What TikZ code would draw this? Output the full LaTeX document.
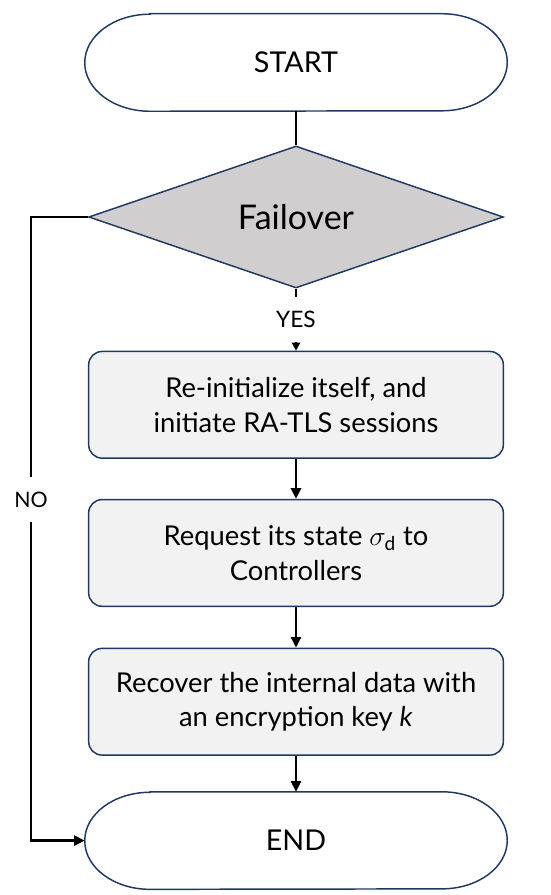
\documentclass[tikz,border=0pt]{standalone}
\usepackage{fontspec}
\setmainfont{Lato}
\usepackage{tikz}
\usetikzlibrary{arrows.meta,positioning,shapes.geometric}
\definecolor{navyline}{RGB}{31,56,100}
\definecolor{decgray}{RGB}{208,206,206}
\definecolor{procgray}{RGB}{242,242,242}

% outline of a terminal node with elliptical ends
\newcommand{\termoutline}[1]{%
  \draw[navyline, line width=1.1pt]
    ([xshift=49pt]#1.north west) -- ([xshift=-49pt]#1.north east)
    arc[start angle=90, end angle=-90, x radius=49pt, y radius=36.4pt]
    -- ([xshift=49pt]#1.south west)
    arc[start angle=270, end angle=90, x radius=49pt, y radius=36.4pt] -- cycle;}

\begin{document}
\begin{tikzpicture}[x=0.75pt, y=-0.75pt,
  terminal/.style={minimum width=316.5pt, minimum height=72.75pt, inner sep=0pt, font=\fontsize{21.5}{25}\selectfont},
  decision/.style={diamond, draw=navyline, line width=1.1pt, fill=decgray, minimum width=311pt, minimum height=106.5pt, inner sep=0pt, font=\fontsize{25.5}{29}\selectfont},
  process/.style={draw=navyline, line width=1.1pt, fill=procgray, rounded corners=10pt, align=center, minimum width=311pt, minimum height=80pt, font=\fontsize{20.5}{26}\selectfont},
  flow/.style={line width=2pt},
  arrow/.style={flow, -{Triangle[length=8pt, width=7.5pt]}},
  answer/.style={fill=white, inner xsep=2pt, minimum height=34pt, font=\fontsize{17}{19}\selectfont}
]
\useasboundingbox (0,0) rectangle (550,895);

\node[terminal] (start) at (296,62.5) {START};
\node[decision, below=25.5pt of start] (fail) {Failover};
\node[process, below=46.5pt of fail] (reinit) {Re-initialize itself, and\\initiate RA-TLS sessions};
\node[process, below=30pt of reinit] (request) {Request its state $\sigma_{\mathrm{d}}$ to\\Controllers};
\node[process, below=30.5pt of request] (recover) {Recover the internal data with\\an encryption key \textit{k}};
\node[terminal, below=27pt of recover] (end) {END};

\termoutline{start}
\termoutline{end}

\draw[flow] (start) -- (fail);
\draw[flow, -{Triangle[length=6pt, width=6pt]}] (fail) -- node[answer] {YES} (reinit);
\draw[arrow] (reinit) -- (request);
\draw[arrow] (request) -- (recover);
\draw[arrow] (recover) -- (end);
\draw[arrow] (fail.west) -- ++(-57,0) |- node[answer, pos=0.2265, font=\fontsize{16}{18}\selectfont] {NO} (end.west);
\end{tikzpicture}
\end{document}
